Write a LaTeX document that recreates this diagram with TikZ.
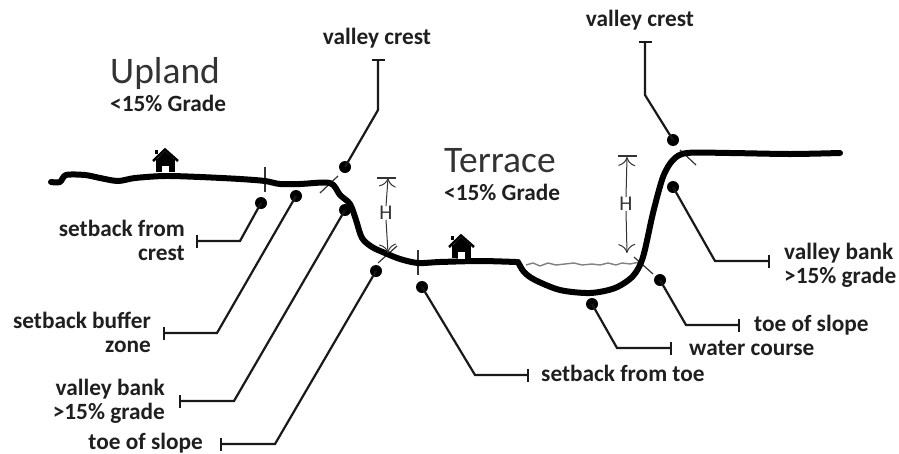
\documentclass[tikz,border=0pt]{standalone}
\usepackage{fontspec}
\setmainfont{Carlito}
\usetikzlibrary{arrows.meta}
\tikzset{
  lab/.style={font=\bfseries\fontsize{23.3}{24}\selectfont,text=black!88,inner sep=0pt},
  big/.style={font=\fontsize{37.5}{40}\selectfont,text=black!80,inner sep=0pt,anchor=west},
  dot/.style={circle,fill=black,inner sep=0pt,minimum size=12pt},
  leader/.style={line width=2.2pt,black!90,-{Bar[width=13pt,line width=2.2pt]}},
  ground/.style={line width=6pt,line cap=round,line join=round},
  tick/.style={line width=1.2pt,black!80},
  dim/.style={line width=1pt,black!80,-{To[length=9pt,width=17pt,line width=1pt,fill=none]}},
  dimbar/.style={line width=1.4pt,black!80},
  hlab/.style={font=\fontsize{21}{22}\selectfont,text=black!80,inner sep=0pt},
  housepic/.pic={
    \fill (-9,24) rectangle (10,11);
    \fill[white] (-3,24.5) rectangle (4,18);
    \draw[line width=2.5pt,miter limit=4] (-12,13) -- (0,1.5) -- (13,13);
    \fill (-10,2) rectangle (-7,6);
    \fill (-9,12) -- (0,3) -- (10,12) -- cycle;
  }
}
\begin{document}
\begin{tikzpicture}[x=1pt,y=-1pt]
\useasboundingbox (0,0) rectangle (899,453);
% ticks
\draw[tick] (265,167) -- (265,192);
\draw[tick] (320,193) -- (338,176);
\draw[tick] (378,263) -- (397,246);
\draw[tick] (418,250) -- (418,275);
\draw[tick] (680,150) -- (696,165);
\draw[tick] (634,257) -- (653,274);
% water
\draw[black!50,line width=1.4pt,line join=round] (526,265) -- (533,263) -- (540,266) -- (548,263) -- (556,265) -- (565,264) -- (574,263) -- (582,265) -- (592,264) -- (600,265) -- (608,263) -- (616,265) -- (622,263) -- (630,264) -- (640,262);
% ground
\draw[ground] plot[smooth,tension=0.5] coordinates {(51,182) (60,182) (66,175) (85,175) (100,178) (118,181) (135,178) (165,176) (200,177) (240,179) (265,181) (280,184) (300,184) (330,183) (340,195) (350,204) (356,220) (362,238) (372,247) (385,253) (400,259) (418,263) (440,262) (480,261) (516,262)};
\draw[ground] plot[smooth,tension=0.5] coordinates {(518,262) (524,272) (535,280) (560,290) (590,293) (615,288) (633,276) (643,257) (653,213) (663,177) (673,160) (687,153) (730,153) (790,154) (840,153)};
% houses
\path (165,148) pic {housepic};
\path (461,234) pic {housepic};
% dots
\node[dot] (d1) at (345,167) {};
\node[dot] (d2) at (673,140) {};
\node[dot] (d3) at (261,203) {};
\node[dot] (d4) at (296,196) {};
\node[dot] (d5) at (345,210) {};
\node[dot] (d6) at (376,271) {};
\node[dot] (d7) at (422,287) {};
\node[dot] (d8) at (592,304) {};
\node[dot] (d9) at (660,280) {};
\node[dot] (d10) at (673,187) {};
% leader ends
\coordinate (e1) at (378,59);
\coordinate (e2) at (645,41);
\coordinate (e3) at (196,241);
\coordinate (e4) at (163,333);
\coordinate (e5) at (179,401);
\coordinate (e6) at (220,444);
\coordinate (e7) at (529,375);
\coordinate (e8) at (672,348);
\coordinate (e9) at (740,325);
\coordinate (e10) at (770,261);
\draw[leader] (d1.center) -- (378,110) -- (e1);
\draw[leader] (d2.center) -- (645,95) -- (e2);
\draw[leader] (d3.center) -- (240,241) -- (e3);
\draw[leader] (d4.center) -- (217,333) -- (e4);
\draw[leader] (d5.center) -- (234,401) -- (e5);
\draw[leader] (d6.center) -- (275,444) -- (e6);
\draw[leader] (d7.center) -- (475,375) -- (e7);
\draw[leader] (d8.center) -- (617,348) -- (e8);
\draw[leader] (d9.center) -- (686,325) -- (e9);
\draw[leader] (d10.center) -- (715,261) -- (e10);
% H dimensions
\coordinate (hab) at (388,178);
\node[hlab] (h1) at (386,213) {H};
\coordinate (hae) at (388,253);
\draw[dimbar] (377,178) -- (396,178);
\draw[dim] (h1.north) -- (hab);
\draw[dim] (h1.south) -- (hae);
\coordinate (hbb) at (627,157);
\node[hlab] (h2) at (626,204) {H};
\coordinate (hbe) at (627,253);
\draw[dimbar] (618,156) -- (637,156);
\draw[dim] (h2.north) -- (hbb);
\draw[dim] (h2.south) -- (hbe);
% labels
\node[big] (upland) at (110,73) {Upland};
\node[lab,anchor=west] (ug) at (110,103) {<15\% Grade};
\node[big] (terrace) at (444,161) {Terrace};
\node[lab,anchor=west] (tg) at (444,192) {<15\% Grade};
\node[lab] (l1) at (377,38) {valley crest};
\node[lab] (l2) at (640,20) {valley crest};
\node[lab,align=right,anchor=east] (l3) at (185,240) {setback from\\crest};
\node[lab,align=right,anchor=east] (l4) at (151,332) {setback buffer\\zone};
\node[lab,align=right,anchor=east] (l5) at (165,401) {valley bank\\>15\% grade};
\node[lab,anchor=base east] (l6) at (203,449) {toe of slope};
\node[lab,anchor=west] (l7) at (541,373) {setback from toe};
\node[lab,anchor=west] (l8) at (689,348) {water course};
\node[lab,anchor=west] (l9) at (754,325) {toe of slope};
\node[lab,align=left,anchor=west] (l10) at (784,265) {valley bank\\>15\% grade};
\end{tikzpicture}
\end{document}
